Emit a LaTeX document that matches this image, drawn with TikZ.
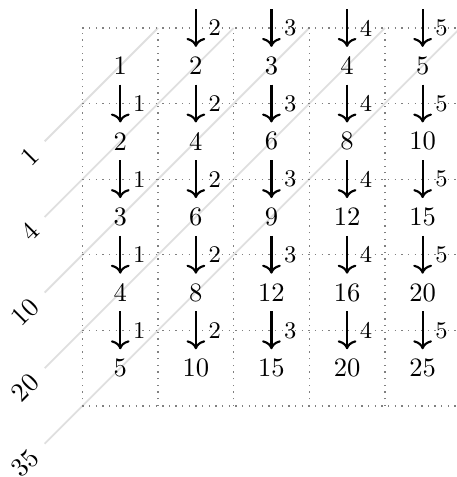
\documentclass[tikz,border=0pt]{standalone}
\usetikzlibrary{arrows.meta}
\begin{document}
\begin{tikzpicture}[x=1cm,y=1cm,
  gridline/.style={dotted, gray, line width=0.5pt},
  diagline/.style={gray!25, line width=0.7pt},
  steparrow/.style={->, thick},
  stepnum/.style={font=\small, inner sep=0pt},
  cellnum/.style={inner sep=0pt},
  sumlabel/.style={rotate=45, anchor=east}]
\useasboundingbox (-1.091,0.370) rectangle (4.954,-5.940);
% diagonal lines
\foreach \k/\s in {1/1,2/4,3/10,4/20,5/35}{
  \coordinate (d\k s) at (-0.5,{-(\k+0.5)});
  \coordinate (d\k e) at (\k,0);
  \draw[diagline] (d\k s) -- (d\k e);
  \node[sumlabel] (lab\k) at (-0.545,{-(\k+0.545)}) {\s};
}
% grid
\draw[gridline] (0,0) grid (5,-5);
% numbers
\foreach \i in {1,...,5}{
  \foreach \j in {1,...,5}{
    \pgfmathtruncatemacro{\v}{\i*\j}
    \node[cellnum] (n\i\j) at ({\i-0.5},{-(\j-0.5)}) {\v};
  }
}
% arrows
\foreach \i in {1,...,5}{
  \foreach \j in {0,...,4}{
    \ifnum\i=1 \ifnum\j=0 \else
      \coordinate (a\i\j s) at ({\i-0.5},{-\j+0.25});
      \coordinate (a\i\j e) at ({\i-0.5},{-\j-0.25});
      \draw[steparrow] (a\i\j s) -- (a\i\j e);
      \node[stepnum] (t\i\j) at ({\i-0.25},{-\j}) {\i};
    \fi
    \else
      \coordinate (a\i\j s) at ({\i-0.5},{-\j+0.25});
      \coordinate (a\i\j e) at ({\i-0.5},{-\j-0.25});
      \draw[steparrow] (a\i\j s) -- (a\i\j e);
      \node[stepnum] (t\i\j) at ({\i-0.25},{-\j}) {\i};
    \fi
  }
}
\end{tikzpicture}
\end{document}
